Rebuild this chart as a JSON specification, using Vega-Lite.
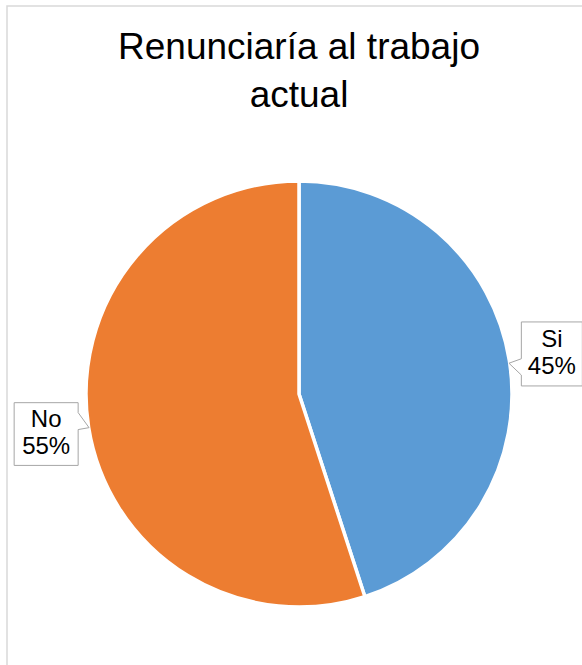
{
  "$schema": "https://vega.github.io/schema/vega-lite/v6.json",
  "width": 584,
  "height": 776,
  "autosize": {"type": "none"},
  "padding": {"left": 7, "top": 6, "right": 0, "bottom": 0},
  "background": "white",
  "view": {"stroke": "#d9d9d9", "strokeWidth": 1.5},
  "config": {"view": {"stroke": "#d9d9d9", "strokeWidth": 1.5}, "font": "Liberation Sans"},
  "title": {
    "text": ["Renunciaría al trabajo", "actual"],
    "fontSize": 37,
    "font": "Liberation Sans",
    "fontWeight": "normal",
    "color": "#000000",
    "anchor": "middle",
    "frame": "group",
    "offset": -138,
    "baseline": "alphabetic",
    "lineHeight": 48
  },
  "data": {
    "values": [
      {"respuesta": "Si", "porcentaje": 45, "k": 1},
      {"respuesta": "No", "porcentaje": 55, "k": 2}
    ]
  },
  "layer": [
    {
      "mark": {"type": "arc", "outerRadius": 213, "stroke": "white", "strokeWidth": 3.5},
      "encoding": {
        "theta": {"field": "porcentaje", "type": "quantitative", "stack": true},
        "order": {"field": "k", "type": "quantitative"},
        "color": {
          "field": "respuesta",
          "type": "nominal",
          "scale": {"domain": ["Si", "No"], "range": ["#5B9BD5", "#ED7D31"]},
          "legend": null
        }
      }
    },
    {
      "transform": [
        {"window": [{"op": "sum", "field": "porcentaje", "as": "cum"}], "sort": [{"field": "k"}]},
        {"calculate": "(datum.cum - datum.porcentaje / 2) / 100 * 2 * PI", "as": "ang"},
        {"calculate": "256 * sin(datum.ang)", "as": "bx"},
        {"calculate": "256 * cos(datum.ang)", "as": "by"}
      ],
      "mark": {"type": "point", "filled": true, "fill": "white", "stroke": "#a6a6a6", "strokeWidth": 1, "size": 4096, "opacity": 1},
      "encoding": {
        "x": {"field": "bx", "type": "quantitative", "scale": {"domain": [-292, 292], "nice": false, "zero": false}, "axis": null},
        "y": {"field": "by", "type": "quantitative", "scale": {"domain": [-388, 388], "nice": false, "zero": false}, "axis": null},
        "shape": {
          "field": "respuesta",
          "type": "nominal",
          "scale": {
            "domain": ["Si", "No"],
            "range": [
              "M-0.953,-1L0.953,-1L0.953,1L-0.953,1L-0.953,0.66L-1.34,0.29L-0.953,0.15Z",
              "M-1,-0.98L1,-0.98L1,-0.67L1.34,-0.2L1,-0.14L1,0.98L-1,0.98Z"
            ]
          },
          "legend": null
        }
      }
    },
    {
      "transform": [{"calculate": "[datum.respuesta, datum.porcentaje + '%']", "as": "label"}],
      "mark": {"type": "text", "fontSize": 24, "lineHeight": 27, "baseline": "middle", "align": "center", "dy": -14, "color": "#000000", "font": "Liberation Sans"},
      "encoding": {
        "theta": {"field": "porcentaje", "type": "quantitative", "stack": true},
        "order": {"field": "k", "type": "quantitative"},
        "radius": {"value": 256},
        "text": {"field": "label"}
      }
    }
  ]
}
